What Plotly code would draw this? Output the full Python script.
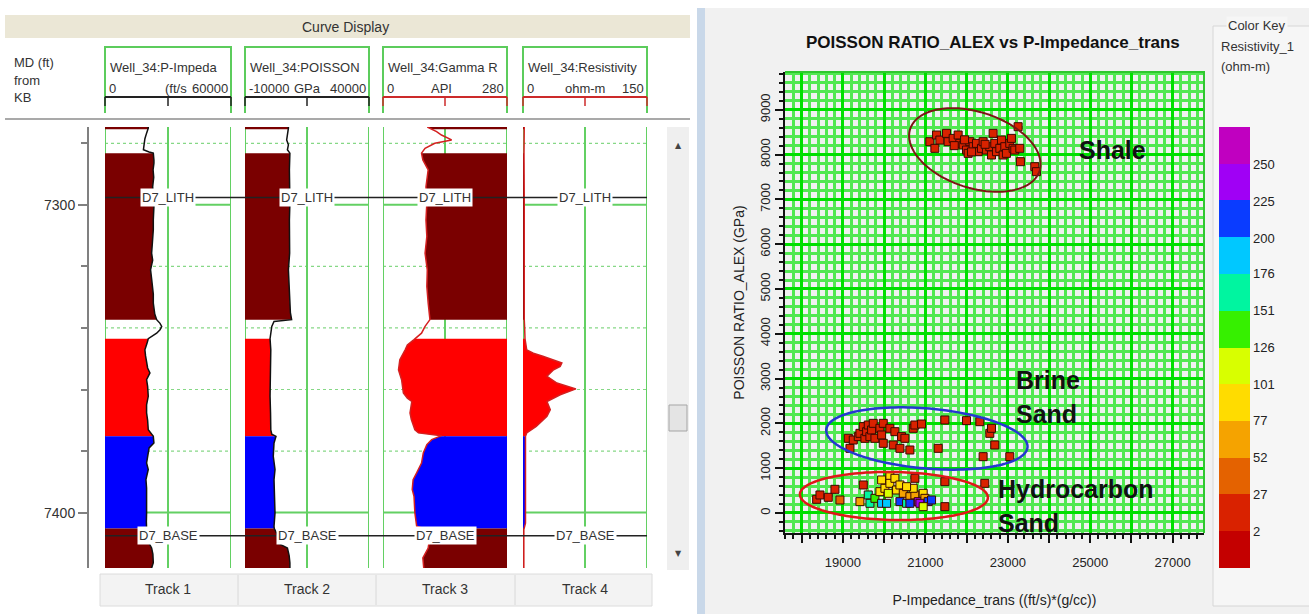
import numpy as np
import plotly.graph_objects as go

W, H = 1309, 614
def px(x): return x / W
def py(y): return 1 - y / H

# ---------------- Well-log curves (depth = MD ft from KB) ----------------
pimp_depth = [7274.7, 7275.1, 7276.7, 7278.5, 7280.5, 7282.1, 7282.8, 7283.2, 7285.4, 7286.5, 7288.6, 7291.0, 7294.1, 7297.0,
              7300.5, 7304.9, 7308.1, 7312.0, 7315.7, 7318.0, 7321.1, 7324.0, 7326.5, 7329.0, 7331.9, 7333.0, 7335.5, 7337.3,
              7338.5, 7339.5, 7340.6, 7341.7, 7342.8, 7343.5, 7345.0, 7347.1, 7349.0, 7351.4, 7353.0, 7354.6, 7356.8, 7359.0,
              7362.2, 7365.0, 7367.6, 7370.0, 7373.1, 7375.2, 7377.4, 7379.0, 7380.6, 7383.9, 7386.0, 7389.3, 7392.0, 7394.7,
              7397.0, 7400.1, 7403.0, 7405.2, 7407.7, 7410.0, 7411.5, 7413.5, 7416.3, 7418.0]
pimp_val = [20600, 20600, 19800, 19000, 18600, 18300, 21000, 23000, 23300, 23300, 22900, 23200, 22700, 23100,
            23300, 23000, 23000, 22600, 22200, 22700, 21700, 22200, 22700, 23000, 23000, 23300, 23700, 24600,
            26200, 27000, 26200, 24600, 22200, 20600, 20000, 19000, 19300, 19800, 20300, 21400, 19800, 20300,
            20600, 19800, 19800, 20300, 20600, 23000, 23300, 21000, 20600, 19800, 20600, 19500, 19800, 19800,
            20100, 19800, 19700, 19800, 20600, 21000, 22200, 22800, 23000, 22200]

pois_depth = [7274.7, 7275.1, 7278.9, 7280.5, 7282.1, 7283.2, 7288.6, 7294.1, 7299.5, 7304.9, 7310.3, 7315.7, 7321.1,
              7326.5, 7331.9, 7335.0, 7337.3, 7337.9, 7339.5, 7341.7, 7343.5, 7347.1, 7351.4, 7356.8, 7362.2, 7367.6,
              7373.1, 7374.5, 7375.2, 7377.4, 7381.7, 7386.0, 7389.3, 7394.7, 7400.1, 7404.4, 7405.2, 7407.7, 7410.0,
              7411.5, 7414.0, 7416.3, 7418.0]
pois_val = [7500, 7500, 6800, 7500, 7100, 8100, 7900, 8100, 8100, 7900, 7900, 8000, 7500,
            7800, 8100, 8300, 8800, 1700, 800, 400, 100, 400, 300, 100, 100, 300,
            400, 800, 2500, 1700, 1400, 2100, 1700, 1900, 2100, 1700, 1800, 3400, 3400,
            7100, 7800, 8100, 8100]

gr_depth = [7274.7, 7275.1, 7276.2, 7277.3, 7278.9, 7280.0, 7281.6, 7283.2, 7285.4, 7288.6, 7294.1, 7299.5, 7304.9,
            7310.3, 7315.7, 7321.1, 7326.5, 7331.9, 7337.3, 7339.5, 7341.7, 7343.8, 7345.5, 7347.1, 7350.3, 7353.6,
            7356.8, 7361.1, 7362.8, 7363.9, 7366.0, 7367.6, 7369.8, 7373.1, 7374.1, 7375.0, 7376.3, 7377.9, 7380.6,
            7383.9, 7387.1, 7389.3, 7392.5, 7394.7, 7400.1, 7404.4, 7405.5, 7407.7, 7411.5, 7414.7, 7418.0]
gr_val = [100, 106, 121, 132, 155, 117, 95, 87, 90, 102, 97, 99, 97,
          99, 95, 100, 99, 102, 106, 95, 87, 70, 55, 50, 38, 35,
          42, 46, 55, 65, 63, 61, 64, 72, 80, 132, 110, 99, 91,
          87, 76, 68, 66, 70, 72, 76, 100, 106, 102, 90, 92]

res_depth = [7274.7, 7283.0, 7300.0, 7320.0, 7337.3, 7340.0, 7343.5, 7347.1, 7348.2, 7349.2, 7350.3, 7351.4, 7352.5,
             7353.6, 7355.7, 7357.9, 7359.8, 7361.7, 7363.9, 7366.6, 7368.7, 7372.0, 7374.1, 7375.2, 7383.9, 7394.7,
             7403.4, 7405.5, 7418.0]
res_val = [1.5, 1.2, 1.5, 1.2, 1.5, 2.0, 2.4, 4.5, 12.5, 24, 35, 47, 45,
           37, 29, 41, 64, 45, 29, 33, 29, 16, 4.5, 3.0, 3.0, 3.5,
           3.0, 1.0, 1.0]

# lithology zones (depth intervals) and formation tops
zone_top = [7274.7, 7283.2, 7343.5, 7375.2, 7405.2]
zone_base = [7275.4, 7337.3, 7375.2, 7405.2, 7418.0]
zone_lith = ["shale", "shale", "brine sand", "hydrocarbon sand", "shale"]
top_names = ["D7_LITH", "D7_BASE"]
top_depths = [7297.6, 7407.5]
track_names = ["Track 1", "Track 2", "Track 3", "Track 4"]
depth_range = [7418.0, 7274.7]
depth_major = [7300, 7400]
depth_minor = [7280, 7320, 7340, 7360, 7380]

# ---------------- Cross-plot points ----------------
shale_imp = [21109, 21230, 21271, 21351, 21513, 21553, 21674, 21795, 21836, 21917, 21998, 22038, 22078, 22159,
             22240, 22280, 22361, 22401, 22482, 22563, 22604, 22644, 22684, 22725, 22806, 22846, 22886, 22927,
             22967, 23048, 23088, 23129, 23169, 23250, 23290, 23306, 23654, 23695, 21700, 21950, 22120, 22450]
shale_pr = [8288, 8140, 8437, 8325, 8474, 8288, 8362, 8437, 8251, 8214, 8102, 8028, 8288, 8177,
            8251, 8065, 8140, 8288, 8102, 8177, 7991, 8474, 8251, 8065, 8140, 8325, 7991, 8177,
            8028, 8251, 8362, 8140, 8102, 8623, 8140, 7842, 7730, 7619, 8200, 8330, 8060, 8230]
shale_res = [12, 18, 9, 15, 20, 11, 14, 8, 16, 19, 13, 10, 17, 12,
             22, 9, 15, 18, 11, 14, 20, 7, 16, 12, 19, 13, 10, 17,
             15, 11, 21, 14, 9, 18, 12, 16, 13, 10, 15, 19, 11, 14]

brine_imp = [19129, 19170, 19250, 19372, 19412, 19493, 19533, 19574, 19614, 19654, 19695, 19735, 19776, 19897,
             19938, 19978, 19978, 20139, 20220, 20260, 20382, 20422, 20503, 20624, 20705, 20745, 20907, 21311,
             21472, 21998, 22321, 22401, 22563, 22604, 22684, 23048]
brine_pr = [1667, 1443, 1629, 1704, 1778, 1927, 1667, 1815, 1964, 1704, 1853, 2001, 1667, 1890,
            1741, 2001, 1555, 1890, 1518, 1815, 1443, 1704, 1667, 1406, 1890, 1964, 1986, 1443,
            2076, 2061, 2038, 1257, 1778, 1890, 1518, 1257]
brine_res = [14, 10, 17, 12, 19, 15, 8, 13, 20, 11, 16, 9, 18, 14,
             12, 17, 10, 15, 13, 19, 11, 16, 14, 9, 18, 12, 15, 13,
             17, 10, 14, 16, 12, 18, 11, 15]

hc_imp = [18362, 18442, 18644, 18806, 18927, 19493, 19412, 19614, 19655, 19776, 19938, 19897, 20018, 19938,
          20059, 20139, 20139, 20099, 20261, 20301, 20382, 20463, 20382, 20544, 20624, 20745, 20745, 20826,
          20947, 20988, 20867, 21068, 21150, 20947, 21473, 21473, 20624, 20705, 20544, 22442]
hc_pr = [305, 402, 350, 528, 290, 625, 253, 402, 216, 327, 737, 476, 551, 216,
         216, 811, 662, 439, 774, 513, 625, 439, 253, 216, 364, 774, 402, 253,
         439, 327, 216, 253, 290, 141, 699, 141, 216, 551, 587, 662]
hc_res = [15, 10, 18, 12, 40, 15, 65, 165, 165, 145, 90, 88, 92, 190,
          188, 90, 95, 115, 85, 92, 90, 65, 212, 165, 65, 15, 60, 238,
          95, 70, 240, 210, 215, 115, 15, 15, 205, 85, 88, 15]

key_ticks = [2, 27, 52, 77, 101, 126, 151, 176, 200, 225, 250]
key_min, key_max = -23, 275
key_colors = ["#c40000", "#d92200", "#e46200", "#f5a300", "#ffdc00", "#d8ff00",
              "#36f000", "#00f5a0", "#00c8ff", "#0a3cff", "#a000f5", "#c000c0"]

# ---------------- styles ----------------
lith_colors = {"shale": "#7a0000", "brine sand": "#ff0000", "hydrocarbon sand": "#0000ff"}
FONT = "Liberation Sans"
TXT = "#333333"
GREEN = "#63d063"

tracks = [
    dict(name="Well_34:P-Impeda", unit="(ft/s", lo=0, hi=60000, depth=pimp_depth, val=pimp_val,
         side="left", curve="#111111", scale="#222222", udx=8),
    dict(name="Well_34:POISSON", unit="GPa", lo=-10000, hi=40000, depth=pois_depth, val=pois_val,
         side="left", curve="#111111", scale="#222222", udx=0),
    dict(name="Well_34:Gamma R", unit="API", lo=0, hi=280, depth=gr_depth, val=gr_val,
         side="right", curve="#d42020", scale="#cc2a2a", udx=-4),
    dict(name="Well_34:Resistivity", unit="ohm-m", lo=0, hi=150, depth=res_depth, val=res_val,
         side="left", curve="#d42020", scale="#cc2a2a", udx=0),
]
track_px = [(105, 231), (245, 369), (383, 507), (523, 647)]

fig = go.Figure()
shapes, annos = [], []
layout = {}

# ---------------- panel decorations (paper coords) ----------------
def rect(x0, y0, x1, y1, fill, line=None, lw=0, layer="below"):
    shapes.append(dict(type="rect", xref="paper", yref="paper", x0=px(x0), x1=px(x1), y0=py(y1), y1=py(y0),
                       fillcolor=fill, line=dict(color=line or fill, width=lw), layer=layer))

def seg(x0, y0, x1, y1, color, w, layer="above"):
    shapes.append(dict(type="line", xref="paper", yref="paper", x0=px(x0), x1=px(x1), y0=py(y0), y1=py(y1),
                       line=dict(color=color, width=w), layer=layer))

def text(x, y, s, size=13, color=TXT, xanchor="center", family=FONT, bg=None):
    a = dict(xref="paper", yref="paper", x=px(x), y=py(y), text=s, showarrow=False, xanchor=xanchor,
             yanchor="middle", font=dict(family=family, size=size, color=color))
    if bg:
        a["bgcolor"] = bg
    annos.append(a)

# right panel background and window edge
rect(705, 8, 1309, 614, "#f1f1f1")
rect(697, 8, 705, 614, "#c9d8e9")
rect(1213, 26, 1312, 606, "#f6f6f6", "#d6d6d6", 1)
# left panel: title bar, separators, bottom label band, scrollbar
rect(5, 15, 690, 38, "#ebe7d6")
seg(5, 119, 690, 119, "#a9a9a9", 2)
rect(100, 574, 652, 606, "#f3f3f3", "#dcdcdc", 1)
for sx in (238, 376, 515):
    seg(sx, 575, sx, 605, "#d8d8d8", 1)
rect(667, 127, 689, 570, "#efefef")
rect(669, 405, 687, 431, "#e4e4e4", "#a5a5a5", 1)
text(678, 145, "▲", size=8, color="#444", family="DejaVu Sans")
text(678, 553, "▼", size=8, color="#444", family="DejaVu Sans")

text(345, 27, "Curve Display", size=14)
text(12, 62, "MD (ft)", size=13, xanchor="left")
text(12, 80, "from", size=13, xanchor="left")
text(12, 98, "KB", size=13, xanchor="left")

# ---------------- well-log tracks ----------------
for i, tr in enumerate(tracks):
    xa = "x" if i == 0 else f"x{i+1}"
    key = "xaxis" if i == 0 else f"xaxis{i+1}"
    l, r = track_px[i]
    lo, hi = tr["lo"], tr["hi"]
    mid = (lo + hi) / 2
    layout[key] = dict(domain=[px(l), px(r)], range=[lo, hi], anchor="y", showgrid=False, zeroline=False,
                       showticklabels=False, ticks="", showline=False, fixedrange=True)
    # depth grid (dotted minor, solid major) and vertical track grid, drawn under the fills
    gx, gy = [], []
    for dv in depth_minor:
        gx += [lo, hi, None]; gy += [dv, dv, None]
    fig.add_trace(go.Scatter(x=gx, y=gy, xaxis=xa, yaxis="y", mode="lines",
                             line=dict(color="#86d886", width=1.2, dash="dot"), hoverinfo="skip", showlegend=False))
    gx, gy = [], []
    for dv in depth_major:
        gx += [lo, hi, None]; gy += [dv, dv, None]
    for xv in (lo, mid, hi):
        gx += [xv, xv, None]; gy += [depth_range[0], depth_range[1], None]
    fig.add_trace(go.Scatter(x=gx, y=gy, xaxis=xa, yaxis="y", mode="lines",
                             line=dict(color=GREEN, width=2), hoverinfo="skip", showlegend=False))
    d = np.array(tr["depth"], dtype=float)
    v = np.array(tr["val"], dtype=float)
    base = lo if tr["side"] == "left" else hi
    for zt, zb, lith in zip(zone_top, zone_base, zone_lith):
        zd = [zt] + [z for z in d if zt < z < zb] + [zb]
        zv = np.interp(zd, d, v)
        fig.add_trace(go.Scatter(x=[base] + list(zv) + [base], y=[zt] + zd + [zb], xaxis=xa, yaxis="y",
                                 mode="lines", fill="toself", fillcolor=lith_colors[lith],
                                 line=dict(width=0), hoverinfo="skip", showlegend=False))
    fig.add_trace(go.Scatter(x=v, y=d, xaxis=xa, yaxis="y", mode="lines",
                             line=dict(color=tr["curve"], width=1.5), hoverinfo="skip", showlegend=False))
    # header
    shapes.append(dict(type="path", xref="paper", yref="paper",
                       path=f"M {px(l)},{py(113)} L {px(l)},{py(47)} L {px(r)},{py(47)} L {px(r)},{py(113)}",
                       line=dict(color="#5ccc5c", width=2)))
    seg(l, 97, r, 97, tr["scale"], 2)
    for tx in (l, (l + r) / 2, r):
        seg(tx, 97, tx, 106, tr["scale"], 1.5)
    text(l + 3, 67, tr["name"], size=13, xanchor="left")
    text(l + 2, 88, f"{lo:d}", size=13, xanchor="left")
    text((l + r) / 2 + tr["udx"], 88, tr["unit"], size=13)
    text(r - 1, 88, f"{hi:d}", size=13, xanchor="right")
    text((l + r) / 2, 589, track_names[i], size=14)
    for nm, dp in zip(top_names, top_depths):
        annos.append(dict(xref=xa, yref="y", x=mid, y=dp, text=nm, showarrow=False,
                          bgcolor="white", borderpad=1, font=dict(family=FONT, size=13, color=TXT)))

for nm, dp in zip(top_names, top_depths):
    shapes.append(dict(type="line", xref="paper", yref="y", x0=px(105), x1=px(647), y0=dp, y1=dp,
                       line=dict(color="#222222", width=1.5), layer="above"))

layout["yaxis"] = dict(domain=[py(568), py(127)], range=depth_range, anchor="free", position=px(88),
                       side="left", showline=True, linecolor="#808080", linewidth=2, ticks="outside",
                       ticklen=9, tickwidth=2, tickcolor="#808080", tickmode="array", tickvals=depth_major,
                       showgrid=False, zeroline=False,
                       tickfont=dict(family=FONT, size=14, color=TXT), fixedrange=True,
                       minor=dict(tickmode="array", tickvals=depth_minor, ticks="outside", ticklen=6,
                                  tickwidth=2, tickcolor="#808080", showgrid=False))

# ---------------- cross-plot ----------------
xp_range = [17594, 27760]
yp_range = [-447, 9844]
XL, XR, YT, YB = 785, 1204, 72, 533

cscale = []
n = len(key_colors)
for k, c in enumerate(key_colors):
    cscale += [[k / n, c], [(k + 1) / n, c]]

all_imp = shale_imp + brine_imp + hc_imp
all_pr = shale_pr + brine_pr + hc_pr
all_res = shale_res + brine_res + hc_res
fig.add_trace(go.Scatter(
    x=all_imp, y=all_pr, xaxis="x5", yaxis="y2", mode="markers", showlegend=False,
    marker=dict(symbol="square", size=8, color=all_res, colorscale=cscale, cmin=key_min, cmax=key_max,
                line=dict(color="#3a0800", width=1),
                colorbar=dict(x=px(1219), xanchor="left", y=py((127 + 568) / 2), yanchor="middle",
                              len=(568 - 127) / H, lenmode="fraction", thickness=31, thicknessmode="pixels",
                              outlinewidth=0, xpad=0, ypad=0, tickmode="array", tickvals=key_ticks,
                              ticks="", tickfont=dict(family=FONT, size=13, color="#222")))))

GM, GMIN = "#00df00", "#52e852"
layout["xaxis5"] = dict(domain=[px(XL), px(XR)], range=xp_range, anchor="y2", tickmode="array",
                        tickvals=list(range(18000, 28000, 1000)),
                        ticktext=["" if t % 2000 == 0 else str(t) for t in range(18000, 28000, 1000)],
                        ticks="outside", ticklen=8, tickwidth=1.5, tickcolor="#111", showline=True,
                        linecolor="#111", linewidth=1.5, showgrid=True, gridcolor=GM, gridwidth=3,
                        zeroline=False, tickfont=dict(family=FONT, size=13, color="#222"),
                        ticklabelstandoff=9,
                        title=dict(text="P-Impedance_trans ((ft/s)*(g/cc))", standoff=26,
                                   font=dict(family=FONT, size=14, color="#222")),
                        minor=dict(dtick=200, tick0=0, ticks="outside", ticklen=4, tickcolor="#111",
                                   showgrid=True, gridcolor=GMIN, gridwidth=2.5), fixedrange=True)
layout["yaxis2"] = dict(domain=[py(YB), py(YT)], range=yp_range, anchor="x5", tickmode="array",
                        tickvals=list(range(0, 10000, 1000)), tickangle=-90,
                        ticks="outside", ticklen=8, tickwidth=1.5, tickcolor="#111", showline=True,
                        linecolor="#111", linewidth=1.5, showgrid=True, gridcolor=GM, gridwidth=3,
                        zeroline=False, tickfont=dict(family=FONT, size=13, color="#222"),
                        title=dict(text="POISSON RATIO_ALEX (GPa)", standoff=10,
                                   font=dict(family=FONT, size=14, color="#222")),
                        minor=dict(dtick=200, tick0=0, ticks="outside", ticklen=4, tickcolor="#111",
                                   showgrid=True, gridcolor=GMIN, gridwidth=2.5), fixedrange=True)
shapes.append(dict(type="path", xref="x5 domain", yref="y2 domain", path="M 0,1 L 1,1 L 1,0",
                   line=dict(color="#2fc72f", width=2), layer="above"))

# group ellipses (screen-space semi-axes in px, rotation in degrees clockwise)
ellipses = [
    dict(cx=22200, cy=8103, a=68, b=38, angle=18, color="#7d1414", width=2),
    dict(cx=21036, cy=1663, a=101, b=30, angle=5, color="#2438d0", width=2.5),
    dict(cx=20236, cy=379, a=94, b=24, angle=1, color="#e01818", width=2.5),
]
kx = (XR - XL) / (xp_range[1] - xp_range[0])
ky = (YB - YT) / (yp_range[1] - yp_range[0])
t = np.linspace(0, 2 * np.pi, 145)
for e in ellipses:
    th = np.radians(e["angle"])
    dx = e["a"] * np.cos(t) * np.cos(th) - e["b"] * np.sin(t) * np.sin(th)
    dy = e["a"] * np.cos(t) * np.sin(th) + e["b"] * np.sin(t) * np.cos(th)
    ex = e["cx"] + dx / kx
    ey = e["cy"] - dy / ky
    path = "M " + " L ".join(f"{a:.1f},{b:.1f}" for a, b in zip(ex, ey)) + " Z"
    shapes.append(dict(type="path", xref="x5", yref="y2", path=path, line=dict(color=e["color"], width=e["width"]),
                       layer="above"))

text(993, 42, "<b>POISSON RATIO_ALEX vs P-Impedance_trans</b>", size=17, color="#111")
for s, x, y in [("Shale", 1077, 150), ("Brine", 1014, 380), ("Sand", 1014, 414),
                ("Hydrocarbon", 996, 489), ("Sand", 996, 523)]:
    text(x, y, f"<b>{s}</b>", size=25, color="#111", xanchor="left")
text(1226, 25, "Color Key", size=13, xanchor="left", bg="#f6f6f6")
text(1219, 46, "Resistivity_1", size=13, xanchor="left")
text(1219, 66, "(ohm-m)", size=13, xanchor="left")

fig.update_layout(width=W, height=H, margin=dict(l=0, r=0, t=0, b=0), paper_bgcolor="white",
                  plot_bgcolor="white", showlegend=False, shapes=shapes, annotations=annos,
                  font=dict(family=FONT, size=13, color=TXT), **layout)
fig.write_html("out.html", config={"displayModeBar": False},
               post_script="document.body.style.margin='0px';document.body.style.overflow='hidden';")
